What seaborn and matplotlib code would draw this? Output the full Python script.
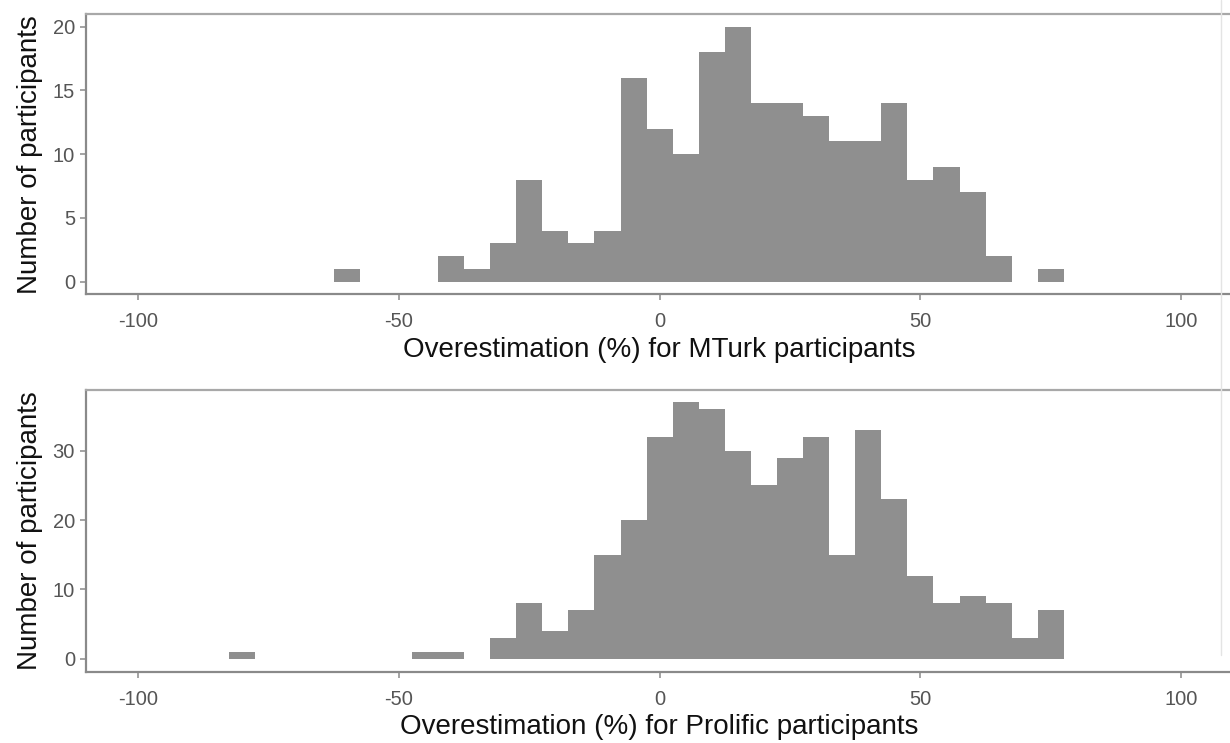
import numpy as np
import pandas as pd
import matplotlib
matplotlib.use("Agg")
import matplotlib.pyplot as plt
from matplotlib.lines import Line2D
import seaborn as sns

# Bin centres (overestimation, %) and participant counts per 5-point bin
mturk_centers = [-60, -40, -35, -30, -25, -20, -15, -10, -5, 0, 5, 10, 15, 20,
                 25, 30, 35, 40, 45, 50, 55, 60, 65, 75]
mturk_counts = [1, 2, 1, 3, 8, 4, 3, 4, 16, 12, 10, 18, 20, 14,
                14, 13, 11, 11, 14, 8, 9, 7, 2, 1]

prolific_centers = [-80, -45, -40, -30, -25, -20, -15, -10, -5, 0, 5, 10, 15,
                    20, 25, 30, 35, 40, 45, 50, 55, 60, 65, 70, 75]
prolific_counts = [1, 1, 1, 3, 8, 4, 7, 15, 20, 32, 37, 36, 30,
                   25, 29, 32, 15, 33, 23, 12, 8, 9, 8, 3, 7]

x_ticks = [-100, -50, 0, 50, 100]
mturk_yticks = [0, 5, 10, 15, 20]
prolific_yticks = [0, 10, 20, 30]

x_title_mturk = "Overestimation (%) for MTurk participants"
x_title_prolific = "Overestimation (%) for Prolific participants"
y_title = "Number of participants"

sns.set_theme(style="white")
plt.rcParams["font.family"] = ["Liberation Sans", "DejaVu Sans"]

W, H = 1230, 743
fig = plt.figure(figsize=(W / 100, H / 100), dpi=100)
fig.patch.set_facecolor("white")

BAR = "#8f8f8f"
FRAME = "#8a8a8a"
TICKLAB = "#555555"


def panel(rect, centers, counts, yticks, ylim, xtitle):
    ax = fig.add_axes(rect)
    df = pd.DataFrame({"x": centers, "n": counts})
    sns.histplot(data=df, x="x", weights="n", binwidth=5,
                 binrange=(-82.5, 77.5), ax=ax,
                 color=BAR, alpha=1, linewidth=0, edgecolor=BAR)
    ax.set_xlim(-110, 110)
    ax.set_ylim(*ylim)
    ax.set_xticks(x_ticks)
    ax.set_xticklabels([str(v) for v in x_ticks])
    ax.set_yticks(yticks)
    ax.set_yticklabels([str(v) for v in yticks])
    ax.tick_params(axis="both", direction="out", length=4, width=1.1,
                   color=FRAME, labelcolor=TICKLAB, labelsize=14.5,
                   bottom=True, left=True)
    ax.tick_params(axis="x", pad=9)
    ax.tick_params(axis="y", pad=4)
    for s in ax.spines.values():
        s.set_visible(True)
        s.set_color(FRAME)
        s.set_linewidth(1.6)
    ax.spines["top"].set_color("#a8a8a8")
    ax.set_xlabel(xtitle, fontsize=20, color="#111111", labelpad=4)
    ax.set_ylabel(y_title, fontsize=20, color="#111111", labelpad=7)
    ax.grid(False)
    return ax


top_rect = [86 / W, 1 - 294.3 / H, (1233.3 - 86) / W, (294.3 - 14) / H]
bot_rect = [86 / W, 1 - 671.5 / H, (1233.3 - 86) / W, (671.5 - 389.5) / H]

panel(top_rect, mturk_centers, mturk_counts, mturk_yticks, (-1, 21), x_title_mturk)
panel(bot_rect, prolific_centers, prolific_counts, prolific_yticks, (-1.85, 38.85),
      x_title_prolific)

# faint border line at the right edge of the canvas
fig.add_artist(Line2D([1221 / W, 1221 / W], [1 - 655 / H, 1.0],
                      transform=fig.transFigure, color="#e4e4e4", linewidth=1))

fig.savefig("out.png", dpi=100, facecolor="white")
